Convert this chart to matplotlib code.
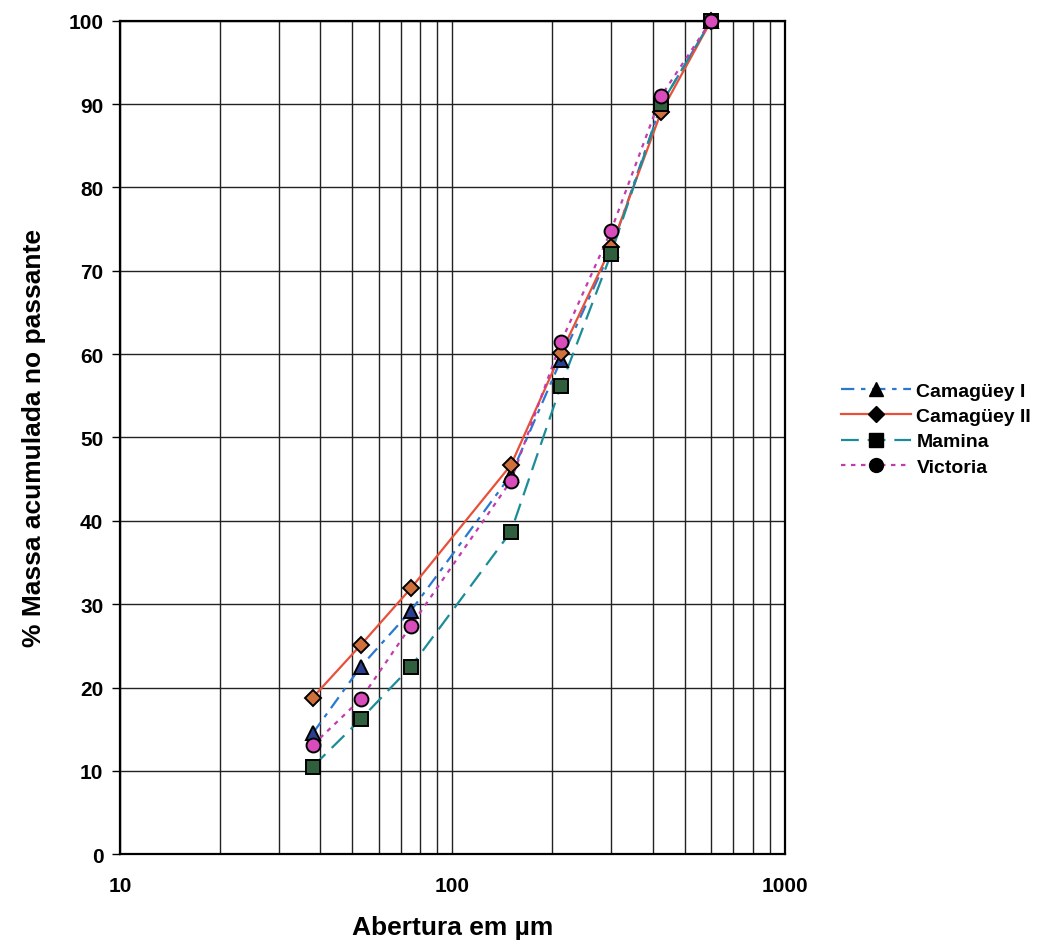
import matplotlib.pyplot as plt
import numpy as np
from matplotlib.lines import Line2D
from matplotlib.ticker import FixedLocator, LogLocator, NullFormatter

# Sieve openings (um) and cumulative passing mass (%)
abertura = [38, 53, 75, 150, 212, 300, 425, 600]
camaguey_1 = [14.5, 22.5, 29.2, 45.5, 59.3, 72.5, 90.0, 100]
camaguey_2 = [18.8, 25.1, 31.9, 46.7, 60.1, 72.8, 89.1, 100]
mamina = [10.5, 16.2, 22.5, 38.7, 56.2, 72.0, 90.0, 100]
victoria = [13.1, 18.6, 27.4, 44.8, 61.4, 74.8, 91.0, 100]

series = [
    ("Camagüey I", camaguey_1, "#2a78d0", (0, (6, 3, 2, 3)), "^", "#2b3f8f"),
    ("Camagüey II", camaguey_2, "#e8503a", "-", "D", "#d0703c"),
    ("Mamina", mamina, "#1c8c98", (0, (8, 4)), "s", "#2f5f3c"),
    ("Victoria", victoria, "#c23cb0", (0, (2, 2.5)), "o", "#d84cbc"),
]

plt.rcParams['font.family'] = ['Liberation Sans', 'DejaVu Sans']

fig = plt.figure(figsize=(10.62, 9.45), dpi=100)
ax = fig.add_axes([0.113, 0.095, 0.626, 0.882])

for name, vals, lc, ls, mk, mc in series:
    ax.plot(abertura, vals, color=lc, linestyle=ls, linewidth=1.6, zorder=3)
for name, vals, lc, ls, mk, mc in series:
    ax.plot(abertura, vals, linestyle="none", marker=mk, markersize=10 if mk != "D" else 8,
            markerfacecolor=mc, markeredgecolor="black", markeredgewidth=1.4,
            zorder=4, clip_on=False)

ax.set_xscale("log")
ax.set_xlim(10, 1000)
ax.set_ylim(0, 100)
ax.yaxis.set_major_locator(FixedLocator(np.arange(0, 101, 10)))
ax.xaxis.set_major_locator(FixedLocator([10, 100, 1000]))
ax.xaxis.set_minor_locator(LogLocator(base=10, subs=np.arange(2, 10)))
ax.xaxis.set_minor_formatter(NullFormatter())
ax.set_xticklabels(["10", "100", "1000"])

ax.grid(True, which="both", color="#222222", linewidth=1.0)
ax.set_axisbelow(True)
for sp in ax.spines.values():
    sp.set_color("black")
    sp.set_linewidth(1.6)

ax.tick_params(axis="y", which="major", length=6, width=1, pad=6, labelsize=15)
ax.tick_params(axis="x", which="major", length=0, pad=16, labelsize=15)
ax.tick_params(axis="x", which="minor", length=0)
for lab in ax.get_xticklabels() + ax.get_yticklabels():
    lab.set_fontweight("bold")

ax.set_xlabel("Abertura em µm", fontsize=19, fontweight="bold", labelpad=14)
ax.set_ylabel("% Massa acumulada no passante", fontsize=19, fontweight="bold", labelpad=16)

handles = [
    Line2D([], [], color=lc, linestyle=ls, linewidth=1.6, marker=mk,
           markersize=10 if mk != "D" else 8, markerfacecolor="black",
           markeredgecolor="black")
    for name, vals, lc, ls, mk, mc in series
]
fig.legend(handles, [s[0] for s in series], loc="center left",
           bbox_to_anchor=(0.775, 0.545), frameon=False, handlelength=3.6,
           handletextpad=0.3, labelspacing=0.4,
           prop={"weight": "bold", "size": 14})

fig.savefig("out.png", dpi=100, facecolor="white")
